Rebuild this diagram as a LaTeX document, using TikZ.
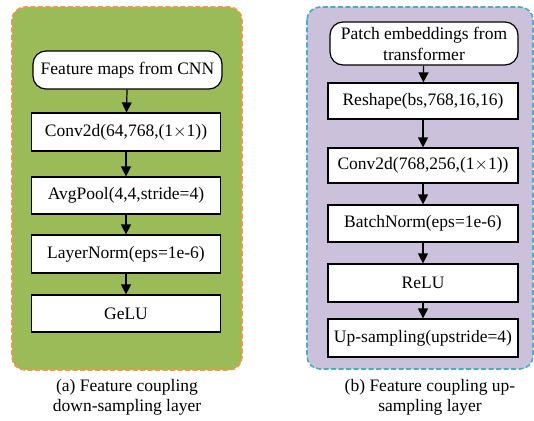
\documentclass[tikz,border=0pt]{standalone}
\usepackage{fontspec}
\setmainfont{Liberation Serif}
\usetikzlibrary{arrows.meta}

\definecolor{downfill}{HTML}{9BBB59}
\definecolor{downedge}{HTML}{F79646}
\definecolor{upfill}{HTML}{CCC1DA}
\definecolor{upedge}{HTML}{4BACC6}

\begin{document}
\begin{tikzpicture}[x=1pt, y=-1pt,
    layer/.style={draw=black, fill=white, line width=1.2pt, minimum width=189pt,
        minimum height=37pt, inner sep=0pt, align=center,
        font=\fontsize{17.5}{21}\selectfont},
    source/.style={layer, rounded corners=13pt},
    flow/.style={-{Triangle[length=10pt, width=10pt]}, line width=1.2pt},
    panel/.style={line width=1.6pt, dash pattern=on 5pt off 2.5pt, rounded corners=13pt},
    caption/.style={align=center, font=\fontsize{17.5}{20}\selectfont}]
    \useasboundingbox (0,0) rectangle (534,420);

    % Down-sampling panel
    \draw[panel, draw=downedge, fill=downfill] (12,7) rectangle (242,370);
    \node[source, minimum height=38pt] (cnn) at (127.5,70) {Feature maps from CNN};
    \node[layer, minimum height=38pt] (conv) at (126,132) {Conv2d(64,768,(1$\times$1))};
    \node[layer] (pool) at (126,195.5) {AvgPool(4,4,stride=4)};
    \node[layer, minimum height=38pt] (lnorm) at (126,254) {LayerNorm(eps=1e-6)};
    \node[layer] (gelu) at (126,313.5) {GeLU};
    \foreach \a/\b in {cnn/conv, conv/pool, pool/lnorm, lnorm/gelu}
        \draw[flow] (\a) -- (\b);
    \node[caption] (capa) at (127,397) {(a) Feature coupling\\down-sampling layer};

    % Up-sampling panel
    \draw[panel, draw=upedge, fill=upfill] (307,7) rectangle (533,369);
    \node[source, minimum width=188pt, minimum height=43pt] (patch) at (424,43.5) {Patch embeddings from\\transformer};
    \node[layer, minimum width=190pt, minimum height=36pt] (reshape) at (423,101) {Reshape(bs,768,16,16)};
    \node[layer, minimum width=190pt, minimum height=35pt] (proj) at (423,165.5) {Conv2d(768,256,(1$\times$1))};
    \node[layer, minimum width=190pt] (bnorm) at (423,223.5) {BatchNorm(eps=1e-6)};
    \node[layer, minimum width=190pt, minimum height=38pt] (relu) at (423,283) {ReLU};
    \node[layer, minimum width=190pt, minimum height=38pt] (upsamp) at (423,338) {Up-sampling(upstride=4)};
    \foreach \a/\b in {patch/reshape, reshape/proj, proj/bnorm, bnorm/relu, relu/upsamp}
        \draw[flow] (\a) -- (\b);
    \node[caption] (capb) at (430,397) {(b) Feature coupling up-\\sampling layer};
\end{tikzpicture}
\end{document}
